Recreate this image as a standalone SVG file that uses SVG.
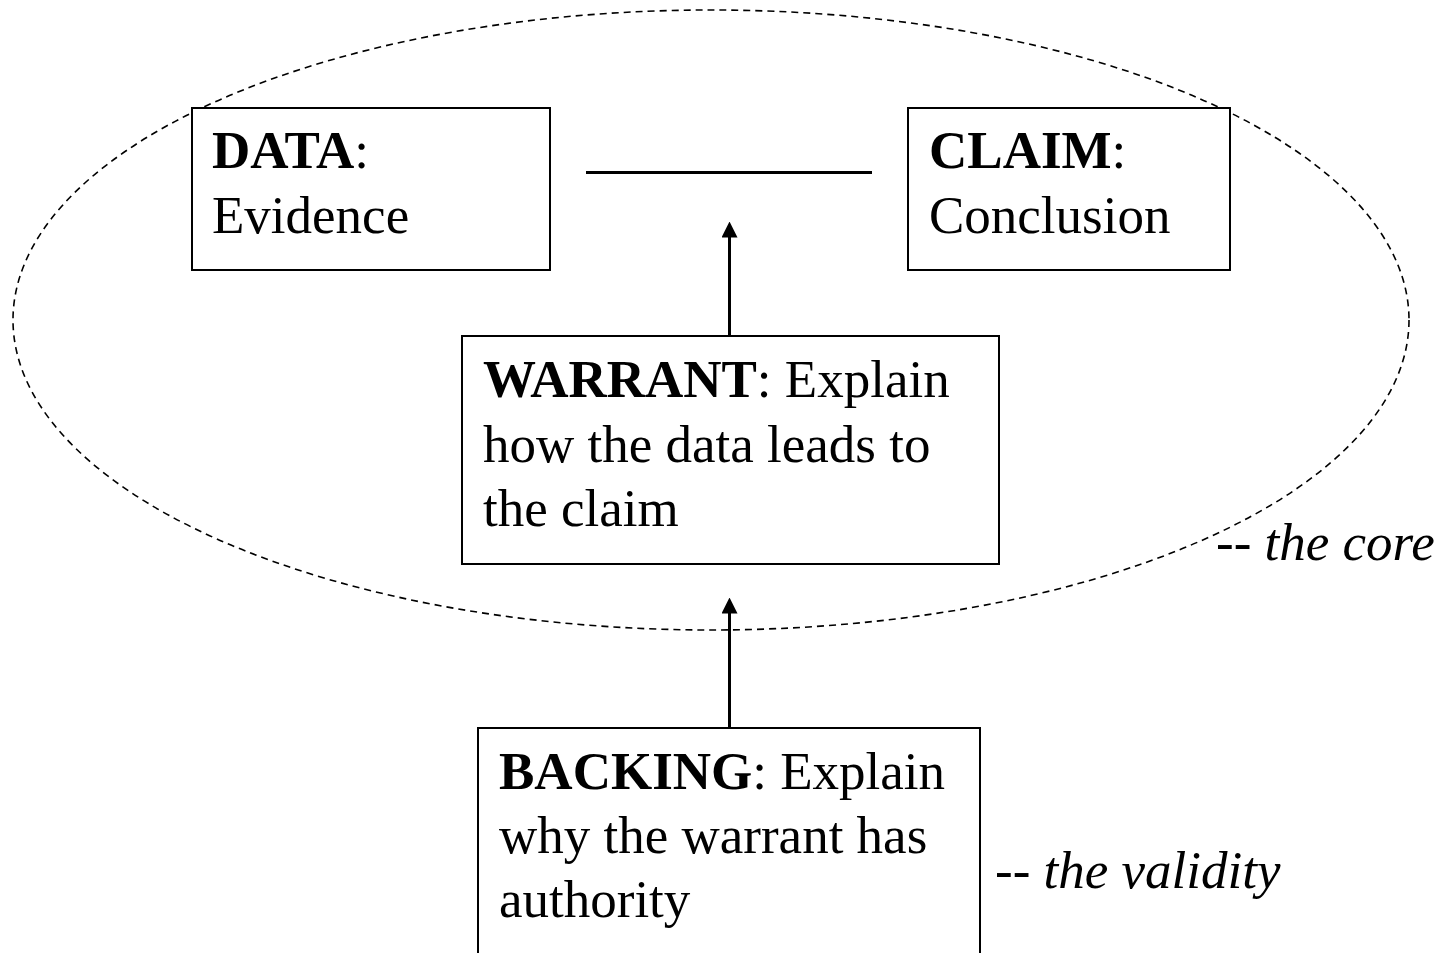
<svg xmlns="http://www.w3.org/2000/svg" width="1437" height="953" viewBox="0 0 1437 953">
<style>
.box{fill:#fff;stroke:#000;stroke-width:2}
.t{font-family:"Liberation Serif","Times New Roman",serif;font-size:53px;fill:#000}
.b{font-weight:bold}
.i{font-style:italic}
.conn{stroke:#000;stroke-width:3;fill:none}
</style>
<defs>
<marker id="ah" markerWidth="16" markerHeight="16" viewBox="0 0 16 16" refX="0.5" refY="8" orient="auto" markerUnits="userSpaceOnUse">
<path d="M0,0 L16,8 L0,16 Z" fill="#000"/>
</marker>
</defs>
<rect width="1437" height="953" fill="#fff"/>
<g id="core">
<ellipse cx="711" cy="320" rx="698" ry="310" fill="none" stroke="#000" stroke-width="1.6" stroke-dasharray="7,5"/>
<text class="t i" x="1216" y="560">-- the core</text>
</g>
<g id="data">
<rect class="box" x="192" y="108" width="358" height="162"/>
<text class="t" x="212" y="168"><tspan class="b">DATA</tspan>:</text>
<text class="t" x="212" y="233">Evidence</text>
</g>
<g id="claim">
<rect class="box" x="908" y="108" width="322" height="162"/>
<text class="t" x="929" y="168"><tspan class="b">CLAIM</tspan>:</text>
<text class="t" x="929" y="233">Conclusion</text>
</g>
<g id="warrant">
<rect class="box" x="462" y="336" width="537" height="228"/>
<text class="t" x="483" y="397"><tspan class="b">WARRANT</tspan>: Explain</text>
<text class="t" x="483" y="462">how the data leads to</text>
<text class="t" x="483" y="526">the claim</text>
</g>
<g id="backing">
<path class="box" d="M478,960 V728 H980 V960"/>
<text class="t" x="499" y="789"><tspan class="b">BACKING</tspan>: Explain</text>
<text class="t" x="499" y="853">why the warrant has</text>
<text class="t" x="499" y="917">authority</text>
<text class="t i" x="995" y="888">-- the validity</text>
</g>
<g id="connectors">
<line class="conn" x1="586" y1="172.5" x2="872" y2="172.5"/>
<line class="conn" x1="729.5" y1="336" x2="729.5" y2="237" marker-end="url(#ah)"/>
<line class="conn" x1="729.5" y1="728" x2="729.5" y2="613" marker-end="url(#ah)"/>
</g>
</svg>
